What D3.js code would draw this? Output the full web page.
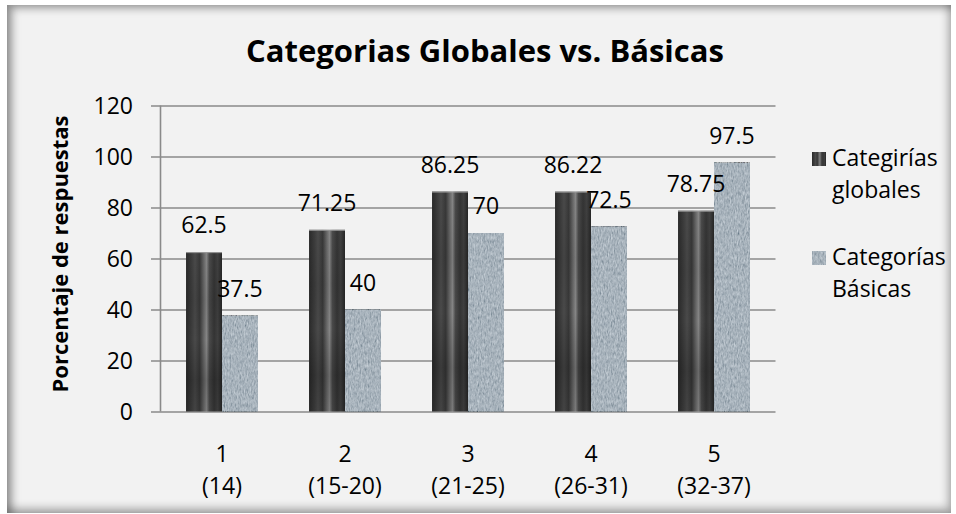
<!DOCTYPE html>
<html>
<head>
<meta charset="utf-8">
<script src="https://cdn.jsdelivr.net/npm/d3@7"></script>
<style>
  html, body { margin: 0; padding: 0; background: #ffffff; }
  #wrap { position: relative; width: 956px; height: 514px; overflow: hidden; }
  #panel {
    position: absolute; left: 7px; top: 5px; width: 944px; height: 508px;
    background: #f2f2f2;
    box-shadow: inset 5px 3px 9px rgba(0,0,0,0.38), inset -3px -5px 8px rgba(0,0,0,0.28);
  }
  svg { position: absolute; left: 0; top: 0; }
  text { font-family: "Open Sans", "Noto Sans", sans-serif; fill: #000; }
</style>
</head>
<body>
<div id="wrap"><div id="panel"></div></div>
<script>
const categories = ["1", "2", "3", "4", "5"];
const categorySub = ["(14)", "(15-20)", "(21-25)", "(26-31)", "(32-37)"];
const seriesNames = [["Categirías", "globales"], ["Categorías", "Básicas"]];
const globales = [62.5, 71.25, 86.25, 86.22, 78.75];
const basicas = [37.5, 40, 70, 72.5, 97.5];
const yTicks = [0, 20, 40, 60, 80, 100, 120];
const titleText = "Categorias Globales vs. Básicas";
const yLabel = "Porcentaje de respuestas";

const W = 956, H = 514;
const plot = { left: 160.5, right: 775.5, top: 105.5, bottom: 411.5 };

const svg = d3.select("#wrap").append("svg").attr("width", W).attr("height", H);
const defs = svg.append("defs");

// dark cylindrical gradient
const g1 = defs.append("linearGradient").attr("id", "darkGrad").attr("x1", "0").attr("x2", "1").attr("y1", "0").attr("y2", "0");
[[0, "#2a2a2a"], [0.15, "#3c3c3c"], [0.25, "#4a4a4a"], [0.38, "#383838"], [0.5, "#6a6a6a"], [0.57, "#858585"], [0.65, "#4a4a4a"], [0.78, "#343434"], [0.88, "#404040"], [1, "#262626"]]
  .forEach(([o, c]) => g1.append("stop").attr("offset", o).attr("stop-color", c));
const g1v = defs.append("linearGradient").attr("id", "darkShade").attr("x1", "0").attr("x2", "0").attr("y1", "0").attr("y2", "1");
[[0, 0.0], [0.3, 0.08], [0.55, 0.0], [0.8, 0.2], [1, 0.08]]
  .forEach(([o, a]) => g1v.append("stop").attr("offset", o).attr("stop-color", "#000").attr("stop-opacity", a));

// granite texture filter for light bars
const f = defs.append("filter").attr("id", "grain").attr("x", 0).attr("y", 0).attr("width", 1).attr("height", 1);
f.append("feTurbulence").attr("type", "fractalNoise").attr("baseFrequency", "0.7 0.25").attr("numOctaves", 3).attr("seed", 7).attr("result", "noise");
f.append("feColorMatrix").attr("in", "noise").attr("type", "matrix")
  .attr("values", "0.33 0.33 0.33 0 0  0.33 0.33 0.33 0 0  0.33 0.33 0.33 0 0  0 0 0 0 1").attr("result", "gray");
f.append("feComposite").attr("in", "SourceGraphic").attr("in2", "gray").attr("operator", "arithmetic")
  .attr("k1", 0).attr("k2", 1).attr("k3", 0.8).attr("k4", -0.4);

const x = d3.scaleBand().domain(categories).range([plot.left, plot.right]).padding(0);
const xs = d3.scaleBand().domain([0, 1]).range([0, x.bandwidth()]).paddingInner(0).paddingOuter(0.71);
const y = d3.scaleLinear().domain([0, 120]).range([plot.bottom, plot.top]);

// gridlines + tick labels
const yAxis = d3.axisLeft(y).tickValues(yTicks).tickSizeInner(-(plot.right - 151)).tickSizeOuter(0).tickPadding(18);
const ga = svg.append("g").attr("transform", "translate(151,0)").call(yAxis);
ga.select(".domain").remove();
ga.selectAll(".tick line").attr("stroke", "#8a8a8a").attr("stroke-width", 1.6);
ga.selectAll(".tick text").attr("font-size", 23).attr("fill", "#000")
  .attr("font-family", "'Open Sans', 'Noto Sans', sans-serif").attr("dy", "0.36em");

// y axis line
svg.append("line").attr("x1", plot.left).attr("x2", plot.left).attr("y1", y(120)).attr("y2", y(0))
  .attr("stroke", "#8a8a8a").attr("stroke-width", 1.6);

// bars
const series = [globales, basicas];
const gb = svg.append("g");
categories.forEach((c, i) => {
  series.forEach((vals, s) => {
    const bx = x(c) + xs(s), bw = xs.bandwidth(), by = y(vals[i]), bh = y(0) - y(vals[i]);
    if (s === 0) {
      gb.append("rect").attr("x", bx).attr("y", by).attr("width", bw).attr("height", bh).attr("fill", "url(#darkGrad)");
      gb.append("rect").attr("x", bx).attr("y", by).attr("width", bw).attr("height", bh).attr("fill", "url(#darkShade)");
      gb.append("line").attr("x1", bx).attr("x2", bx + bw).attr("y1", by + 0.5).attr("y2", by + 0.5).attr("stroke", "#9a9a9a").attr("stroke-width", 1);
    } else {
      gb.append("rect").attr("x", bx).attr("y", by).attr("width", bw).attr("height", bh).attr("fill", "#a8b3bc").attr("filter", "url(#grain)");
    }
  });
});

// data labels
categories.forEach((c, i) => {
  series.forEach((vals, s) => {
    svg.append("text").attr("x", x(c) + xs(s) + xs.bandwidth() / 2).attr("y", y(vals[i]) - 19)
      .attr("text-anchor", "middle").attr("font-size", 23).text(vals[i]);
  });
});

// category labels
categories.forEach((c, i) => {
  const cx = x(c) + x.bandwidth() / 2;
  svg.append("text").attr("x", cx).attr("y", 462).attr("text-anchor", "middle").attr("font-size", 23).text(c);
  svg.append("text").attr("x", cx).attr("y", 494).attr("text-anchor", "middle").attr("font-size", 23).text(categorySub[i]);
});

// title
svg.append("text").attr("x", 485).attr("y", 62).attr("text-anchor", "middle")
  .attr("font-size", 31).attr("font-weight", "bold").text(titleText);

// y label
svg.append("text").attr("transform", "translate(68,254) rotate(-90)").attr("text-anchor", "middle")
  .attr("font-size", 22).attr("font-weight", "bold").text(yLabel);

// legend
const legY = [151, 250];
seriesNames.forEach((lines, s) => {
  const lg = svg.append("g");
  if (s === 0) {
    lg.append("rect").attr("x", 812).attr("y", legY[s] + 1).attr("width", 14).attr("height", 14).attr("fill", "url(#darkGrad)");
  } else {
    lg.append("rect").attr("x", 812).attr("y", legY[s] + 1).attr("width", 14).attr("height", 14).attr("fill", "#a8b3bc").attr("filter", "url(#grain)");
  }
  lines.forEach((t, k) => {
    lg.append("text").attr("x", 832).attr("y", legY[s] + 15 + k * 32).attr("font-size", 23).text(t);
  });
});
</script>
</body>
</html>
